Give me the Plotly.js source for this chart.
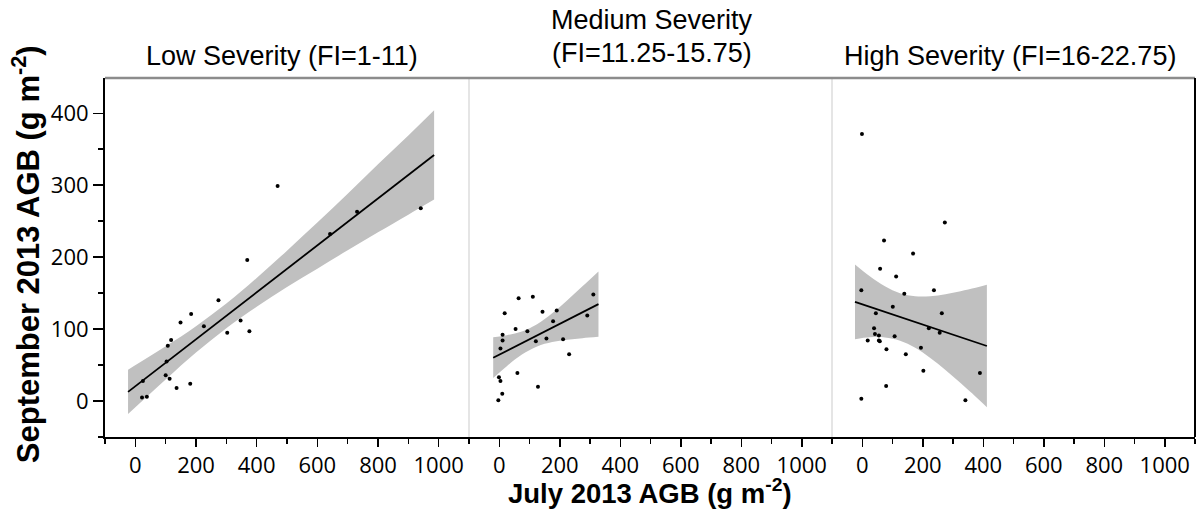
<!DOCTYPE html>
<html>
<head>
<meta charset="utf-8">
<script src="https://cdn.plot.ly/plotly-3.0.1.min.js"></script>
<style>html,body{margin:0;padding:0;background:#fff;}#chart{width:1198px;height:529px;}</style>
</head>
<body>
<div id="chart"></div>
<script>
// ---- data ----
const panelTitles = ["Low Severity (FI=1-11)", "Medium Severity", "(FI=11.25-15.75)", "High Severity (FI=16-22.75)"];
const xTickVals = [0, 200, 400, 600, 800, 1000];
const xTickText = ["0", "200", "400", "600", "800", "1000"];
const yTickVals = [0, 100, 200, 300, 400];
const yTickText = ["0", "100", "200", "300", "400"];

const lowX = [25, 22, 38, 103, 100, 113, 107, 118, 136, 149, 181, 184, 226, 274, 303, 347, 369, 376, 469, 642, 731, 941];
const lowY = [28, 5, 6, 55, 36, 31, 77, 85, 18, 109, 24, 121, 104, 140, 95, 112, 196, 97, 299, 232, 263, 268];
const medX = [-3, 10, 4, -1, 4, 11, 11, 18, 60, 64, 54, 93, 111, 121, 128, 143, 156, 178, 190, 211, 231, 291, 311];
const medY = [1, 10, 28, 33, 73, 84, 92, 122, 39, 143, 100, 97, 145, 83, 20, 124, 87, 111, 126, 86, 65, 119, 148];
const highX = [-1, 273, 72, 168, 59, 112, -3, 237, 139, 101, 45, 263, 39, 220, 42, 55, 256, 18, 55, 58, 107, 80, 194, 144, 202, 389, 79, -3, 341];
const highY = [371, 248, 223, 205, 184, 173, 154, 154, 149, 131, 122, 122, 101, 101, 93, 91, 95, 84, 84, 83, 90, 72, 74, 65, 42, 39, 21, 3, 1];

const lowFitX = [-24, 985];
const lowFitY = [12.7, 342];
const medFitX = [-20, 328];
const medFitY = [60.2, 134.7];
const highFitX = [-24, 412];
const highFitY = [137.9, 76.5];

const lowBandX = [-24, 100, 200, 300, 400, 500, 600, 700, 800, 900, 985];
const lowUpper = [43.5, 76, 104, 135.5, 171, 209, 248, 288, 329, 369, 404];
const lowLower = [-18, 30, 67.5, 101.3, 131, 158.5, 184, 209.5, 234.5, 259, 280];
const medBandX = [-20, 25, 75, 125, 175, 225, 275, 328];
const medUpper = [88.5, 91.4, 96.7, 106.8, 122.1, 140.2, 159.4, 180.1];
const medLower = [31.9, 48.4, 64.5, 75.8, 81.9, 85.2, 87.4, 89.3];
const highBandX = [-24, 25, 75, 125, 175, 225, 275, 325, 375, 412];
const highUpper = [189.9, 173.5, 159.6, 149.9, 145.7, 145.8, 148.5, 152.7, 157.5, 161.5];
const highLower = [85.9, 88.5, 88.4, 83.9, 74.1, 59.8, 43.1, 24.9, 5.9, -8.5];

// ---- build ----
const panels = [
  {xa: 'x', pts: [lowX, lowY], fit: [lowFitX, lowFitY], band: [lowBandX, lowUpper, lowLower]},
  {xa: 'x2', pts: [medX, medY], fit: [medFitX, medFitY], band: [medBandX, medUpper, medLower]},
  {xa: 'x3', pts: [highX, highY], fit: [highFitX, highFitY], band: [highBandX, highUpper, highLower]}
];
const traces = [];
panels.forEach(p => {
  traces.push({x: p.band[0], y: p.band[2], xaxis: p.xa, yaxis: 'y', mode: 'lines',
    line: {width: 0, shape: 'spline', color: 'rgba(0,0,0,0)'}, hoverinfo: 'skip', showlegend: false});
  traces.push({x: p.band[0], y: p.band[1], xaxis: p.xa, yaxis: 'y', mode: 'lines', fill: 'tonexty',
    fillcolor: '#c0c0c0', line: {width: 0, shape: 'spline', color: 'rgba(0,0,0,0)'}, hoverinfo: 'skip', showlegend: false});
  traces.push({x: p.fit[0], y: p.fit[1], xaxis: p.xa, yaxis: 'y', mode: 'lines',
    line: {width: 1.8, color: '#000'}, showlegend: false});
  traces.push({x: p.pts[0], y: p.pts[1], xaxis: p.xa, yaxis: 'y', mode: 'markers',
    marker: {size: 4, color: '#000'}, showlegend: false});
});

const tickFont = {family: 'Open Sans, sans-serif', size: 22, color: '#000'};
const titleFont = {family: 'Liberation Sans, Arial, sans-serif', size: 27, color: '#000'};
const d1 = 364 / 1090, d2 = 727 / 1090;
function xAxis(domain) {
  return {domain: domain, anchor: 'y', range: [-100, 1100], tickmode: 'array', tickvals: xTickVals, ticktext: xTickText,
    ticks: 'outside', ticklen: 8, tickwidth: 1.5, tickcolor: '#000', showline: true, linecolor: '#000', linewidth: 2,
    showgrid: false, zeroline: false, tickfont: tickFont, fixedrange: true,
    minor: {dtick: 100, tick0: 0, ticks: 'outside', ticklen: 5, tickwidth: 1.5, tickcolor: '#000', showgrid: false}};
}
const layout = {
  width: 1198, height: 529,
  margin: {l: 105, r: 3, t: 78, b: 92},
  paper_bgcolor: '#fff', plot_bgcolor: '#fff',
  showlegend: false,
  xaxis: xAxis([0, d1]),
  xaxis2: xAxis([d1, d2]),
  xaxis3: xAxis([d2, 1]),
  yaxis: {range: [-50, 449], tickmode: 'array', tickvals: yTickVals, ticktext: yTickText,
    ticks: 'outside', ticklen: 10, tickwidth: 1.5, tickcolor: '#000', showline: true, linecolor: '#000', linewidth: 2,
    showgrid: false, zeroline: false, tickfont: tickFont, fixedrange: true,
    minor: {dtick: 50, tick0: 0, ticks: 'outside', ticklen: 5, tickwidth: 1.5, tickcolor: '#000', showgrid: false}},
  shapes: [
    {type: 'line', xref: 'paper', yref: 'paper', x0: d1, x1: d1, y0: 0, y1: 1, line: {color: '#dcdcdc', width: 1.5}},
    {type: 'line', xref: 'paper', yref: 'paper', x0: d2, x1: d2, y0: 0, y1: 1, line: {color: '#dcdcdc', width: 1.5}},
    {type: 'line', xref: 'paper', yref: 'paper', x0: 0, x1: 1, y0: 1, y1: 1, line: {color: '#8c8c8c', width: 2.5}},
    {type: 'line', xref: 'paper', yref: 'paper', x0: 1, x1: 1, y0: 0, y1: 1, line: {color: '#000', width: 2}}
  ],
  annotations: [
    {text: panelTitles[0], xref: 'paper', yref: 'paper', x: 0.1624, y: 1.061, xanchor: 'center', yanchor: 'middle', showarrow: false, font: titleFont},
    {text: panelTitles[1], xref: 'paper', yref: 'paper', x: 0.5018, y: 1.161, xanchor: 'center', yanchor: 'middle', showarrow: false, font: titleFont},
    {text: panelTitles[2], xref: 'paper', yref: 'paper', x: 0.5018, y: 1.069, xanchor: 'center', yanchor: 'middle', showarrow: false, font: titleFont},
    {text: panelTitles[3], xref: 'paper', yref: 'paper', x: 0.830, y: 1.061, xanchor: 'center', yanchor: 'middle', showarrow: false, font: titleFont},
    {text: 'July 2013 AGB (g m<sup>-2</sup>)', xref: 'paper', yref: 'paper', x: 0.4997, y: -0.153, xanchor: 'center', yanchor: 'middle', showarrow: false,
      font: {family: 'Liberation Sans, Arial, sans-serif', size: 27.5, color: '#000', weight: 'bold'}},
    {text: 'September 2013 AGB (g m<sup>-2</sup>)', xref: 'paper', yref: 'paper', x: -0.0722, y: 0.51, xanchor: 'center', yanchor: 'middle', showarrow: false,
      textangle: -90, font: {family: 'Liberation Sans, Arial, sans-serif', size: 31, color: '#000', weight: 'bold'}}
  ]
};
Plotly.newPlot('chart', traces, layout, {staticPlot: true, displayModeBar: false});
</script>
</body>
</html>
